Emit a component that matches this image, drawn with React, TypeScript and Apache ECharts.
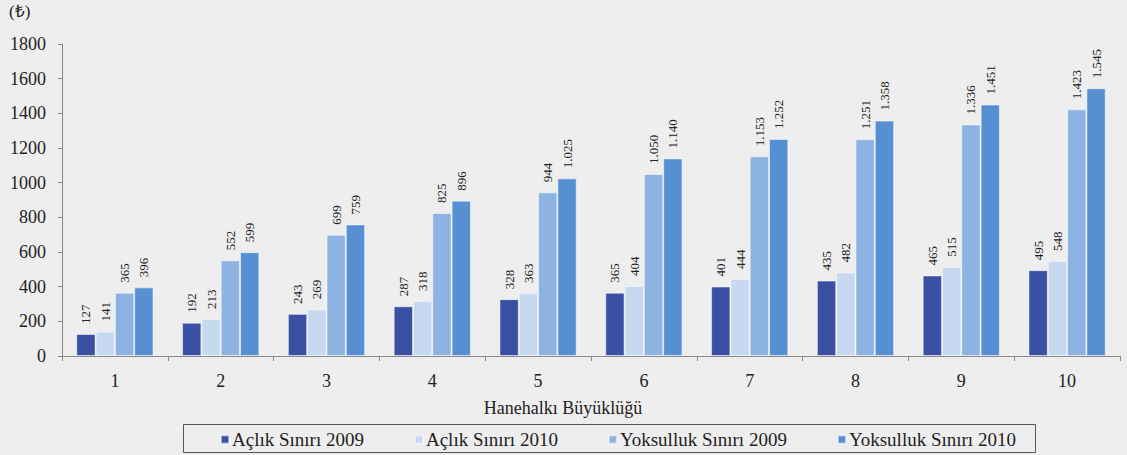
import React, { useEffect, useRef } from "react";
import * as echarts from "echarts";

const categories = ["1", "2", "3", "4", "5", "6", "7", "8", "9", "10"];
const seriesNames = ["Açlık Sınırı 2009", "Açlık Sınırı 2010", "Yoksulluk Sınırı 2009", "Yoksulluk Sınırı 2010"];
const aclik2009 = [127, 192, 243, 287, 328, 365, 401, 435, 465, 495];
const aclik2010 = [141, 213, 269, 318, 363, 404, 444, 482, 515, 548];
const yoksulluk2009 = [365, 552, 699, 825, 944, 1050, 1153, 1251, 1336, 1423];
const yoksulluk2010 = [396, 599, 759, 896, 1025, 1140, 1252, 1358, 1451, 1545];
const colors = ["#3a50a3", "#c6d9f1", "#8db3e2", "#5690d2"];
const yTicks = [0, 200, 400, 600, 800, 1000, 1200, 1400, 1600, 1800];

const FONT = "'Liberation Serif', 'Times New Roman', serif";

function fmt(v: number): string {
  const s = String(v);
  if (v >= 1000) return s.slice(0, s.length - 3) + "." + s.slice(s.length - 3);
  return s;
}

export default function App() {
  const ref = useRef<HTMLDivElement>(null);
  useEffect(() => {
    if (!ref.current) return;
    const chart = echarts.init(ref.current, undefined, { renderer: "svg" });
    const data = [aclik2009, aclik2010, yoksulluk2009, yoksulluk2010];
    chart.setOption({
      animation: false,
      backgroundColor: "#eeeeee",
      grid: { left: 62, right: 7, top: 44, bottom: 99 },
      graphic: [
        {
          type: "text",
          left: 9,
          top: 3,
          style: { text: "(₺)", font: `17px ${FONT}`, fill: "#222" },
        },
        {
          type: "text",
          x: 563,
          y: 408,
          style: {
            text: "Hanehalkı Büyüklüğü",
            font: `18px ${FONT}`,
            fill: "#222",
            align: "center",
            verticalAlign: "middle",
          },
        },
        {
          type: "rect",
          shape: { x: 183.5, y: 424.5, width: 852, height: 28 },
          style: { fill: "none", stroke: "#555", lineWidth: 1 },
        },
      ],
      legend: {
        left: 218,
        top: 428,
        padding: 2,
        itemWidth: 8,
        itemHeight: 8,
        itemGap: 50,
        icon: "rect",
        textStyle: { fontFamily: FONT, fontSize: 19, color: "#222", padding: [0, 0, 0, -2] },
        data: seriesNames,
      },
      xAxis: {
        type: "category",
        data: categories,
        axisLine: { lineStyle: { color: "#888" } },
        axisTick: { show: true, length: 5, lineStyle: { color: "#888" } },
        axisLabel: { fontFamily: FONT, fontSize: 18, color: "#222", margin: 16 },
      },
      yAxis: {
        type: "value",
        min: 0,
        max: 1800,
        interval: 200,
        axisLine: { show: true, lineStyle: { color: "#888" } },
        axisTick: { show: true, length: 4, lineStyle: { color: "#888" } },
        splitLine: { show: false },
        axisLabel: {
          fontFamily: FONT,
          fontSize: 18,
          color: "#222",
          margin: 16,
          formatter: (v: number) => (yTicks.includes(v) ? String(v) : ""),
        },
      },
      series: data.map((d, i) => ({
        name: seriesNames[i],
        type: "bar",
        data: d,
        barGap: "0%",
        barCategoryGap: "27%",
        itemStyle: { color: colors[i], borderColor: "rgba(255,255,255,0.5)", borderWidth: 1 },
        label: {
          show: true,
          position: "top",
          rotate: 90,
          align: "left",
          verticalAlign: "middle",
          distance: 10,
          fontFamily: FONT,
          fontSize: 13,
          color: "#222",
          formatter: (p: any) => fmt(p.value),
        },
      })),
    });
    return () => chart.dispose();
  }, []);
  return (
    <div
      ref={ref}
      style={{ position: "fixed", left: 0, top: 0, width: 1127, height: 455 }}
    />
  );
}
